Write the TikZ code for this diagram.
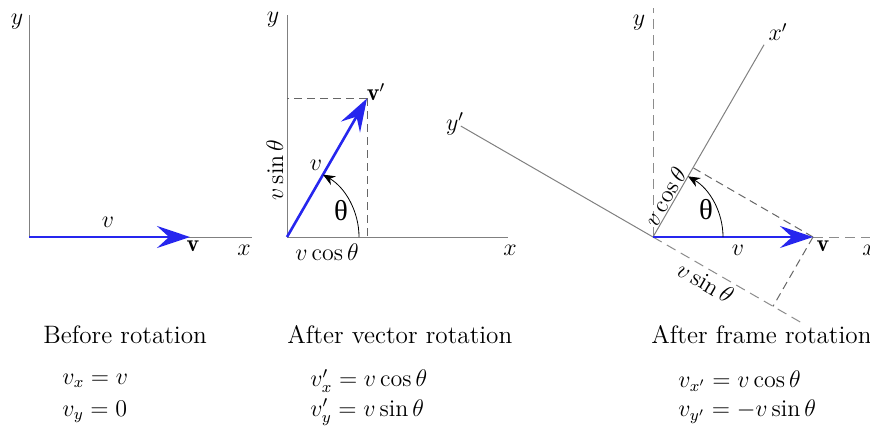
\documentclass[tikz,border=0pt]{standalone}
\usepackage{amsmath,amssymb}
\usepackage{fontspec}
\newfontfamily\grkfont{Liberation Serif}
\usetikzlibrary{positioning,arrows.meta,calc}
\definecolor{vblue}{RGB}{38,38,238}
\tikzset{
  axis/.style={line width=0.5pt,black!50},
  daxis/.style={line width=0.5pt,black!45,dash pattern=on 5pt off 3pt},
  proj/.style={line width=0.5pt,black!60,dash pattern=on 4pt off 2.5pt},
  vec/.style={-{Stealth[length=16.5pt,width=11pt,inset=6pt]},line width=1.3pt,vblue},
  angarc/.style={-{Stealth[length=6pt,width=5pt]},line width=0.4pt},
  lbl/.style={font=\large,inner sep=1pt},
  ttl/.style={font=\fontsize{12.6}{15}\selectfont,anchor=west,inner sep=0pt},
  eqn/.style={font=\large,anchor=west,inner sep=0pt},
}
\begin{document}
\begin{tikzpicture}[x=0.5pt,y=0.5pt]
  \useasboundingbox (0,0) rectangle (870,436);
  % left: vector along x before rotation
  \coordinate (o1) at (29,199);
  \coordinate (x1) at (252,199);
  \coordinate (y1) at (29,421);
  \coordinate (v1) at (190,199);
  \draw[axis] (o1) -- (x1);
  \draw[axis] (o1) -- (y1);
  \draw[vec] (o1) -- (v1);
  \node[lbl] (x1l) at (244,186) {$x$};
  \node[lbl] (y1l) at (17,414) {$y$};
  \node[lbl] (v1l) at (108,214) {$v$};
  \node[lbl] (v1b) at (193,190) {$\mathbf{v}$};

  % middle: vector turned by theta, frame fixed
  \coordinate (o2) at (287,199);
  \coordinate (x2) at (508,199);
  \coordinate (y2) at (287,421);
  \coordinate (v2) at ($(o2)+(60:160)$);
  \draw[axis] (o2) -- (x2);
  \draw[axis] (o2) -- (y2);
  \draw[proj] (v2) -- (v2 |- o2);
  \draw[proj] (v2) -- (v2 -| o2);
  \draw[vec] (o2) -- (v2);
  \draw[angarc] ($(o2)+(72,0)$) arc[start angle=0,end angle=60,radius=72];
  \node[lbl] (x2l) at (510,186) {$x$};
  \node[lbl] (y2l) at (273,416) {$y$};
  \node[lbl] (v2l) at (316,271) {$v$};
  \node[lbl] (v2b) at (376,344) {$\mathbf{v}'$};
  \node[lbl] (th2) at (341,225) {\grkfont\Large θ};
  \node[lbl,rotate=90] (vs2) at (275,266) {$v\sin\theta$};
  \node[lbl] (vc2) at (327,184) {$v\cos\theta$};

  % right: frame turned by theta, vector fixed
  \coordinate (o3) at (653,199);
  \coordinate (x3) at (880,199);
  \coordinate (y3) at (653,428);
  \coordinate (xp) at ($(o3)+(60:222)$);
  \coordinate (yp) at ($(o3)+(150:222)$);
  \coordinate (yn) at ($(o3)+(-30:172)$);
  \coordinate (v3) at (813,199);
  \coordinate (px) at ($(o3)+(60:80)$);
  \coordinate (py) at ($(o3)+(-30:138.6)$);
  \draw[daxis] (o3) -- (x3);
  \draw[daxis] (o3) -- (y3);
  \draw[axis] (o3) -- (xp);
  \draw[axis] (o3) -- (yp);
  \draw[daxis] (o3) -- (yn);
  \draw[proj] (v3) -- (px);
  \draw[proj] (v3) -- (py);
  \draw[vec] (o3) -- (v3);
  \draw[angarc] ($(o3)+(70,0)$) arc[start angle=0,end angle=60,radius=70];
  \node[lbl] (x3l) at (869,186) {$x$};
  \node[lbl] (y3l) at (639,413) {$y$};
  \node[lbl] (xpl) at (778,404) {$x'$};
  \node[lbl] (ypl) at (455,312) {$y'$};
  \node[lbl] (v3l) at (738,186) {$v$};
  \node[lbl] (v3b) at (823,190) {$\mathbf{v}$};
  \node[lbl] (th3) at (706,226) {\grkfont\Large θ};
  \node[lbl,rotate=60,anchor=south,inner sep=0.5pt] (vc3) at ($(o3)+(60:41)$) {$v\cos\theta$};
  \node[lbl,rotate=-30,anchor=north,inner sep=2pt] (vs3) at ($(o3)+(-30:68)$) {$v\sin\theta$};

  % captions and components
  \node[ttl] (t1) at (43,101) {Before rotation};
  \node[ttl] (t2) at (287,101) {After vector rotation};
  \node[ttl] (t3) at (651,101) {After frame rotation};
  \node[eqn] (e11) at (62,55) {$v_x=v$};
  \node[eqn] (e12) at (62,24) {$v_y=0$};
  \node[eqn] (e21) at (310,55) {$v'_x=v\cos\theta$};
  \node[eqn] (e22) at (310,24) {$v'_y=v\sin\theta$};
  \node[eqn] (e31) at (678,55) {$v_{x'}=v\cos\theta$};
  \node[eqn] (e32) at (678,24) {$v_{y'}=-v\sin\theta$};
\end{tikzpicture}
\end{document}
